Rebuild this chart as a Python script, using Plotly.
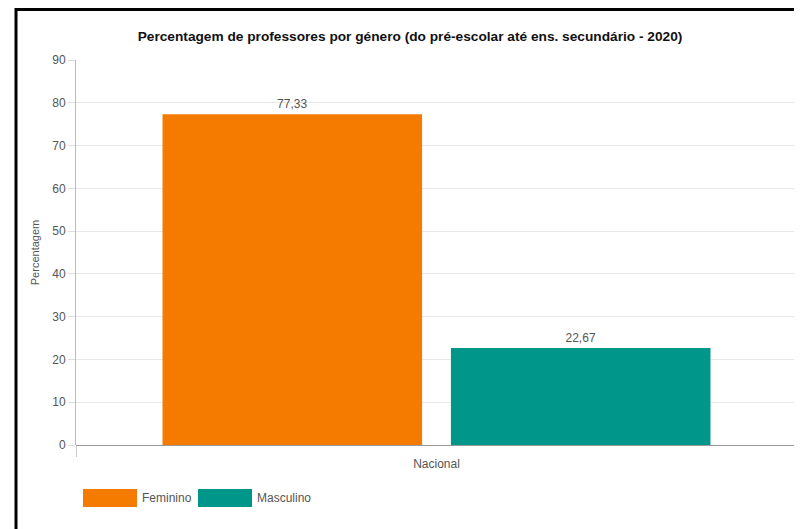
import plotly.graph_objects as go

# data
categorias = ["Nacional"]
series = ["Feminino", "Masculino"]
valores = [[77.33], [22.67]]
cores = ["#F57A00", "#00968A"]
y_ticks = [0, 10, 20, 30, 40, 50, 60, 70, 80, 90]

# page body has an 8px margin, so work in reference pixels minus 8
OFF = 8
W, H = 802 - OFF, 529 - OFF
ML = 76 - OFF
MT = 60 - OFF
MR = W - (797 - OFF)
MB = H - (445 - OFF)
PW, PH = W - ML - MR, H - MT - MB


def px_x(x):
    # reference pixel -> paper coordinate
    return (x - OFF - ML) / PW


def px_y(y):
    return (H - MB - (y - OFF)) / PH


font = "Arial, Liberation Sans, sans-serif"

fig = go.Figure()
for nome, vals, cor in zip(series, valores, cores):
    fig.add_trace(go.Bar(
        x=categorias,
        y=vals,
        name=nome,
        marker=dict(color=cor, line=dict(width=0)),
        texttemplate="%{y:.2f}",
        textposition="outside",
        textfont=dict(size=12, color="#555"),
        cliponaxis=False,
        showlegend=False,
    ))

fig.update_layout(
    width=W, height=H,
    margin=dict(l=ML, r=MR, t=MT, b=MB),
    paper_bgcolor="white",
    plot_bgcolor="white",
    separators=",.",
    barmode="group",
    bargap=0.2,
    bargroupgap=0.1,
    font=dict(family=font, size=12, color="#555"),
    title=dict(
        text="<b>Percentagem de professores por género (do pré-escolar até ens. secundário - 2020)</b>",
        x=(410 - OFF) / W, xref="container", xanchor="center",
        y=1 - (36 - OFF) / H, yref="container", yanchor="middle",
        font=dict(size=13.7, color="#111", family=font),
    ),
)

fig.update_yaxes(
    range=[0, 90],
    tickvals=y_ticks,
    showgrid=True, gridcolor="#e8e8e8", gridwidth=1,
    zeroline=True, zerolinecolor="#999", zerolinewidth=1,
    showline=True, linecolor="#bbb", linewidth=1,
    ticks="outside", ticklen=7, tickcolor="#ddd",
    tickfont=dict(size=12, color="#555"),
    title=dict(text="Percentagem", font=dict(size=11, color="#555"), standoff=10),
)
fig.update_xaxes(
    range=[-0.5, 0.5],
    tickson="boundaries",
    ticks="outside", ticklen=11, tickcolor="#ccc",
    ticklabelstandoff=10,
    showgrid=True, gridcolor="#e8e8e8",
    showline=False,
    tickfont=dict(size=12, color="#555"),
)

# custom legend with wide swatches
leg_x = [83, 198]
for i, (nome, cor) in enumerate(zip(series, cores)):
    x0 = leg_x[i]
    fig.add_shape(type="rect", xref="paper", yref="paper",
                  x0=px_x(x0), x1=px_x(x0 + 54), y0=px_y(507), y1=px_y(489),
                  fillcolor=cor, line=dict(width=0))
    fig.add_annotation(xref="paper", yref="paper", x=px_x(x0 + 57), y=px_y(498),
                       text=nome, showarrow=False, xanchor="left", yanchor="middle",
                       font=dict(size=12, color="#555"))

# screenshot frame
fig.add_shape(type="rect", xref="paper", yref="paper",
              x0=px_x(16), x1=px_x(812), y0=px_y(545), y1=px_y(9.5),
              line=dict(color="black", width=3), fillcolor="rgba(0,0,0,0)", layer="above")

fig.write_html("out.html")
